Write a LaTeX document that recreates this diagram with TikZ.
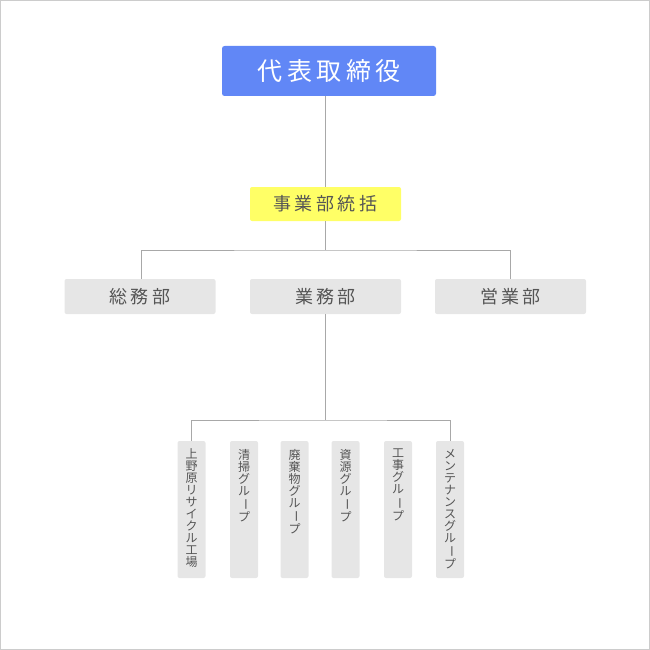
\documentclass[tikz,border=0pt]{standalone}
\usepackage{fontspec}
\usepackage{graphicx}
\setmainfont{Noto Sans CJK JP}
\definecolor{ceoblue}{HTML}{6187F6}
\definecolor{ylw}{HTML}{FFFF66}
\definecolor{boxgray}{HTML}{E6E6E6}
\definecolor{linegray}{HTML}{A8A8A8}
\definecolor{txt}{HTML}{555555}
\newcommand{\vbar}{\rotatebox[origin=c]{-90}{ー}}
\newcommand{\gp}{\kern3.5pt}
\newcommand{\gq}{\kern4.5pt}
\begin{document}
\begin{tikzpicture}[x=1pt,y=-1pt,
  conn/.style={draw=linegray,line width=1pt},
  hbox/.style={fill=boxgray,rounded corners=2pt,minimum width=151pt,minimum height=35pt,inner sep=0pt,text=txt,font=\fontsize{18}{18}\selectfont},
  vbox/.style={fill=boxgray,rounded corners=2pt,minimum width=28pt,minimum height=137pt,inner sep=0pt},
  vtxt/.style={anchor=north,inner sep=0pt,text width=12pt,align=center,text=txt,font=\fontsize{12}{12}\selectfont}]
\useasboundingbox (0,0) rectangle (650,650);
\draw[draw=black!20,line width=0.8pt] (0.5,0.5) rectangle (649.5,649.5);
% nodes
\node[fill=ceoblue,rounded corners=2.5pt,minimum width=214pt,minimum height=50pt,inner sep=0pt,text=white,font=\fontsize{25}{25}\selectfont] (ceo) at (329,71) {代\gq 表\gq 取\gq 締\gq 役};
\node[fill=ylw,rounded corners=2pt,minimum width=151pt,minimum height=34pt,inner sep=0pt,text=txt,font=\fontsize{18}{18}\selectfont] (jg) at (325.5,204) {事\gp 業\gp 部\gp 統\gp 括};
\node[hbox] (somu) at (140,296.5) {総\gp 務\gp 部};
\node[hbox] (gyomu) at (325.5,296.5) {業\gp 務\gp 部};
\node[hbox] (eigyo) at (510.5,296.5) {営\gp 業\gp 部};
% connectors top
\draw[conn] (jg.north) -- (jg.north |- ceo.south);
\coordinate (j1) at (325,250);
\draw[conn] (jg.south -| j1) -- (j1);
\draw[conn] (somu.north -| 141,0) |- (j1) -| (eigyo.north);
% groups
\foreach \n/\x in {g1/191.5,g2/244,g3/294.5,g4/345.5,g5/398,g6/450}{
  \node[vbox] (\n) at (\x,509.5) {};
}
\node[vtxt] at (g1.north) [yshift=-8pt] {上\\野\\原\\リ\\サ\\イ\\ク\\ル\\工\\場};
\node[vtxt] at (g2.north) [yshift=-8pt] {清\\掃\\グ\\ル\\\vbar\\プ};
\node[vtxt] at (g3.north) [yshift=-8pt] {廃\\棄\\物\\グ\\ル\\\vbar\\プ};
\node[vtxt] at (g4.north) [yshift=-8pt] {資\\源\\グ\\ル\\\vbar\\プ};
\node[vtxt] at (g5.north) [yshift=-8pt] {工\\事\\グ\\ル\\\vbar\\プ};
\node[vtxt] at (g6.north) [yshift=-8pt] {メ\\ン\\テ\\ナ\\ン\\ス\\グ\\ル\\\vbar\\プ};
\coordinate (j2) at (325,420);
\draw[conn] (gyomu.south -| j2) -- (j2);
\draw[conn] (g1.north) |- (j2) -| (g6.north);
\end{tikzpicture}
\end{document}
